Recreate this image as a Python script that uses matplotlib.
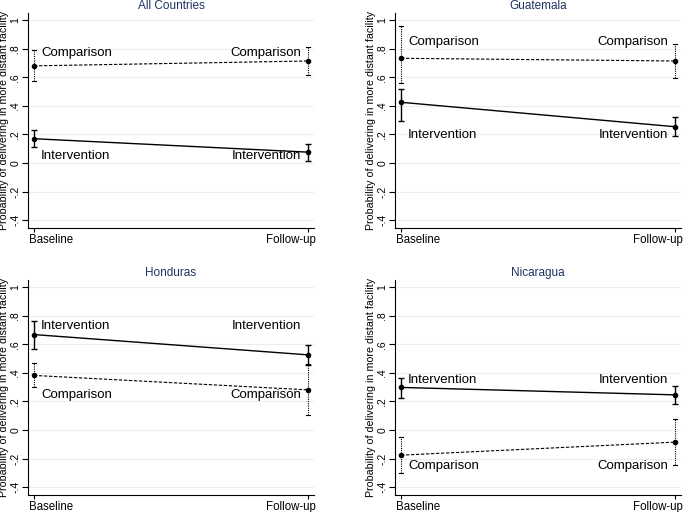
import matplotlib
matplotlib.use('Agg')
import matplotlib.pyplot as plt
import matplotlib.transforms as mtrans

plt.rcParams['font.family'] = ['Liberation Sans', 'DejaVu Sans']

# data
panels = ['All Countries', 'Guatemala', 'Honduras', 'Nicaragua']
periods = ['Baseline', 'Follow-up']

int_mean = [[0.17, 0.076], [0.425, 0.254], [0.668, 0.526], [0.298, 0.246]]
int_lo = [[0.109, 0.016], [0.296, 0.189], [0.568, 0.452], [0.223, 0.183]]
int_hi = [[0.233, 0.133], [0.516, 0.324], [0.766, 0.596], [0.367, 0.305]]

cmp_mean = [[0.68, 0.714], [0.733, 0.714], [0.382, 0.281], [-0.176, -0.085]]
cmp_lo = [[0.576, 0.618], [0.558, 0.597], [0.30, 0.106], [-0.302, -0.244]]
cmp_hi = [[0.793, 0.812], [0.959, 0.83], [0.47, 0.46], [-0.052, 0.076]]

# y where the series names are written
int_label_y = [0.046, 0.196, 0.73, 0.347]
cmp_label_y = [0.768, 0.85, 0.246, -0.255]

yticks = [1, 0.8, 0.6, 0.4, 0.2, 0, -0.2, -0.4]
ytick_labels = ['1', '.8', '.6', '.4', '.2', '0', '-.2', '-.4']

W, H = 685, 512
fig = plt.figure(figsize=(W / 100, H / 100), dpi=100)
lefts = [28, 395, 28, 395]
tops = [13, 13, 280, 280]
x = [0, 1]

for i, name in enumerate(panels):
    ax = fig.add_axes([lefts[i] / W, 1 - (tops[i] + 215) / H, 286 / W, 215 / H])
    ax.set_xlim(-0.022, 1.022)
    ax.set_ylim(-0.455, 1.05)

    for yt in yticks:
        ax.axhline(yt, color='#e6eff1', lw=0.8, zorder=0)

    # comparison: dashed
    ax.plot(x, cmp_mean[i], color='black', lw=0.8, ls=(0, (3, 1.5)),
            marker='o', ms=3, zorder=3)
    for j in range(2):
        ax.plot([x[j], x[j]], [cmp_lo[i][j], cmp_hi[i][j]], color='black',
                lw=0.8, ls=(0, (1, 1)))
        for yc in (cmp_lo[i][j], cmp_hi[i][j]):
            ax.plot([x[j] - 0.008, x[j] + 0.008], [yc, yc], color='black', lw=0.8)

    # intervention: solid
    ax.plot(x, int_mean[i], color='black', lw=1.0, marker='o', ms=3, zorder=3)
    ax.errorbar(x, int_mean[i],
                yerr=[[m - l for m, l in zip(int_mean[i], int_lo[i])],
                      [h - m for m, h in zip(int_mean[i], int_hi[i])]],
                fmt='none', ecolor='black', elinewidth=1.0, capsize=2.5, capthick=1.0)

    for txt, ly in (('Comparison', cmp_label_y[i]), ('Intervention', int_label_y[i])):
        ax.annotate(txt, (0, ly), xytext=(5, 0), textcoords='offset points',
                    ha='left', va='center', fontsize=9.5)
        ax.annotate(txt, (1, ly), xytext=(-5, 0), textcoords='offset points',
                    ha='right', va='center', fontsize=9.5)

    ax.set_title(name, color='#1c3461', fontsize=8.5, pad=3)
    ax.set_yticks(yticks)
    ax.set_yticklabels(ytick_labels, rotation=90, va='center', fontsize=7.5)
    ax.set_xticks(x)
    ax.set_xticklabels(periods, fontsize=8.3)
    ax.tick_params(axis='y', length=4, width=0.8, pad=1.5)
    ax.tick_params(axis='x', length=3, width=0.8, pad=1)
    for lab, dx, ha in zip(ax.get_xticklabels(), [-5, 8], ['left', 'right']):
        lab.set_horizontalalignment(ha)
        lab.set_transform(lab.get_transform() +
                          mtrans.ScaledTranslation(dx / 100, 0, fig.dpi_scale_trans))
    ax.set_ylabel('Probability of delivering in more distant facility', fontsize=7.7)
    ax.yaxis.set_label_coords(-0.065, 0.5)
    ax.spines['top'].set_visible(False)
    ax.spines['right'].set_visible(False)
    ax.spines['left'].set_linewidth(0.8)
    ax.spines['bottom'].set_linewidth(0.8)

fig.savefig('out.png', dpi=100, facecolor='white')
